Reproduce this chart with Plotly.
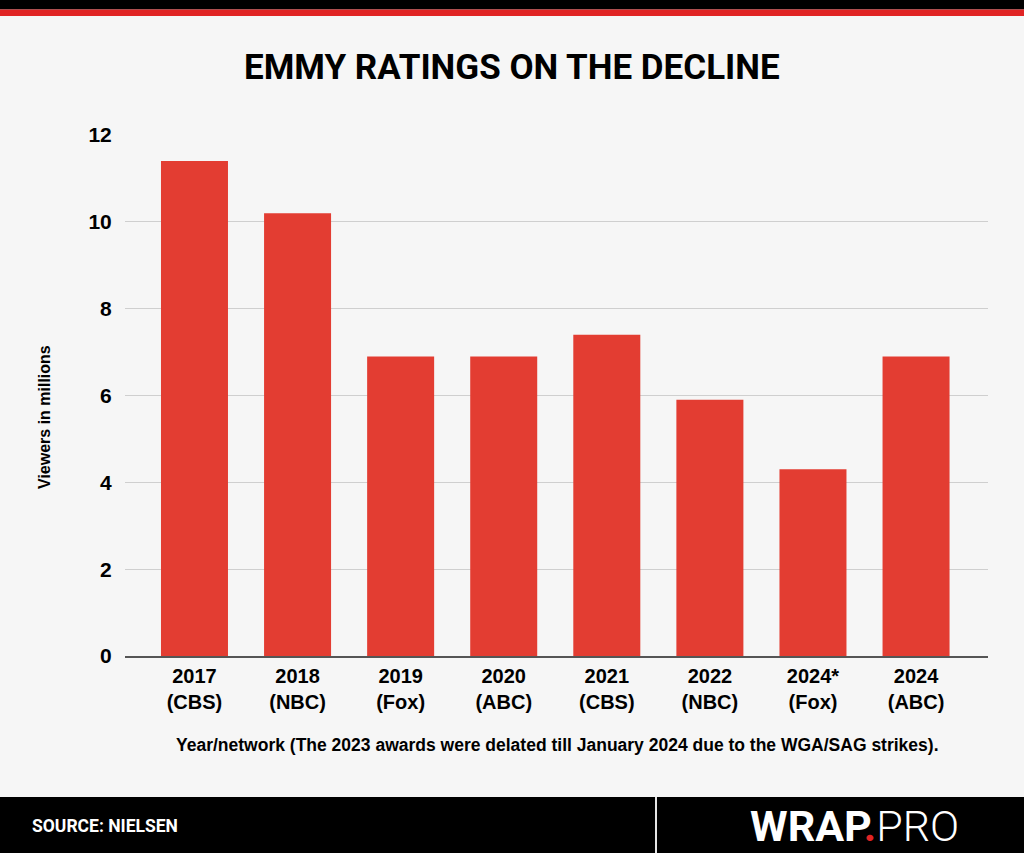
import plotly.graph_objects as go

# Emmy telecast viewers (millions), per year/network
years = ['2017', '2018', '2019', '2020', '2021', '2022', '2024*', '2024']
networks = ['CBS', 'NBC', 'Fox', 'ABC', 'CBS', 'NBC', 'Fox', 'ABC']
viewers = [11.4, 10.2, 6.9, 6.9, 7.4, 5.9, 4.3, 6.9]
ytick_vals = [0, 2, 4, 6, 8, 10, 12]

labels = [y + '<br>(' + n + ')' for y, n in zip(years, networks)]

W, H = 1024, 853
def fx(px):
    return px / W
def fy(py):
    return 1 - py / H

bar_red = '#e33d32'
logo_red = '#e02424'

fig = go.Figure()
fig.add_trace(go.Bar(
    x=list(range(len(viewers))),
    y=viewers,
    marker=dict(color=bar_red, line=dict(width=0)),
    hoverinfo='skip',
))

fig.update_layout(
    width=W, height=H,
    autosize=False,
    margin=dict(l=0, r=0, t=0, b=0, pad=0, autoexpand=False),
    paper_bgcolor='#f6f6f6',
    plot_bgcolor='rgba(0,0,0,0)',
    bargap=0.35,
    showlegend=False,
    font=dict(family='Liberation Sans, Arial, sans-serif', color='black'),
)

fig.update_xaxes(
    domain=[fx(125), fx(988)],
    range=[-0.674, 7.698],
    automargin=False,
    tickmode='array',
    tickvals=list(range(len(labels))),
    ticktext=labels,
    tickfont=dict(size=20, weight='bold', color='black'),
    ticks='outside', ticklen=1, tickcolor='rgba(0,0,0,0)',
    showline=True, linecolor='#555555', linewidth=1.5,
    showgrid=False, zeroline=False,
)
fig.update_yaxes(
    domain=[fy(656), fy(135)],
    range=[0, 12],
    automargin=False,
    tickvals=ytick_vals,
    tickfont=dict(size=21, weight='bold', color='black'),
    ticks='outside', ticklen=8, tickcolor='rgba(0,0,0,0)',
    showgrid=True, gridcolor='#cfcfcf', gridwidth=1,
    zeroline=False, showline=False,
)

shapes = [
    # top black + red bands
    dict(type='rect', xref='paper', yref='paper', x0=0, x1=1, y0=fy(9.5), y1=1,
         fillcolor='black', line=dict(width=0), layer='above'),
    dict(type='rect', xref='paper', yref='paper', x0=0, x1=1, y0=fy(16), y1=fy(9.5),
         fillcolor=logo_red, line=dict(width=0), layer='above'),
    # bottom footer band
    dict(type='rect', xref='paper', yref='paper', x0=0, x1=1, y0=0, y1=fy(797),
         fillcolor='black', line=dict(width=0), layer='above'),
    dict(type='line', xref='paper', yref='paper', x0=fx(656), x1=fx(656), y0=0, y1=fy(797),
         line=dict(color='#e6e6e6', width=2), layer='above'),
]
fig.update_layout(shapes=shapes)

annotations = [
    dict(text='<b>EMMY RATINGS ON THE DECLINE</b>', x=0.5, y=fy(68),
         font=dict(family='Roboto, Liberation Sans, sans-serif', size=35, color='black')),
    dict(text='<b>Viewers in millions</b>', x=fx(44), y=fy(417), textangle=-90,
         font=dict(size=16, color='black')),
    dict(text='<b>Year/network (The 2023 awards were delated till January 2024 due to the WGA/SAG strikes).</b>',
         x=fx(557), y=fy(745),
         font=dict(family='Liberation Sans, Arial, sans-serif', size=17.5, color='black')),
    dict(text='<b>SOURCE: NIELSEN</b>', x=fx(30), y=fy(826), xanchor='left',
         font=dict(family='Roboto, Liberation Sans, sans-serif', size=17.5, color='white')),
    dict(text='<b>WRAP</b><span style="color:' + logo_red + '"><b>.</b></span>'
              '<span style="font-weight:300">PRO</span>', x=fx(854), y=fy(826),
         font=dict(family='Roboto, Liberation Sans, sans-serif', size=43, color='white')),
]
for a in annotations:
    a.update(xref='paper', yref='paper', showarrow=False)
    a.setdefault('xanchor', 'center')
    a.setdefault('yanchor', 'middle')
fig.update_layout(annotations=annotations)

fig.write_html('out.html',
               config={'responsive': False, 'displayModeBar': False},
               post_script="document.body.style.margin='0';document.body.style.overflow='hidden';")
